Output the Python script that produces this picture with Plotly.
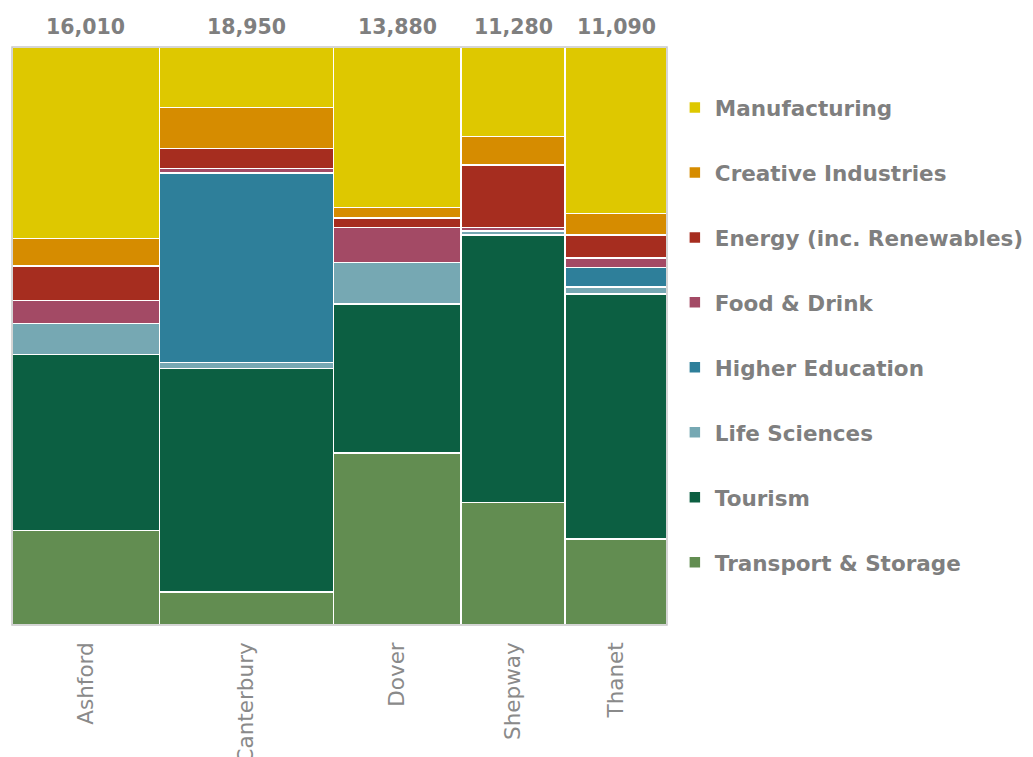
import plotly.graph_objects as go

# Districts and total jobs per district (column widths)
districts = ["Ashford", "Canterbury", "Dover", "Shepway", "Thanet"]
totals = [16010, 18950, 13880, 11280, 11090]

# Jobs by sector in each district (same order as districts)
transport = [2620, 1080, 4130, 2390, 1650]
tourism = [4870, 7330, 3580, 5220, 4700]
life_sciences = [860, 190, 990, 80, 140]
higher_education = [0, 6220, 0, 0, 370]
food_drink = [640, 150, 850, 70, 180]
energy = [950, 660, 220, 1220, 440]
creative = [770, 1330, 260, 550, 420]
manufacturing = [5300, 1990, 3850, 1750, 3190]

# Stacked bottom to top
sectors = [
    ("Transport & Storage", transport, "#628D51"),
    ("Tourism", tourism, "#0C5F42"),
    ("Life Sciences", life_sciences, "#76A8B3"),
    ("Higher Education", higher_education, "#2E7F9A"),
    ("Food & Drink", food_drink, "#A34A65"),
    ("Energy (inc. Renewables)", energy, "#A62D1F"),
    ("Creative Industries", creative, "#D68C00"),
    ("Manufacturing", manufacturing, "#DEC800"),
]

# Column positions: each column is as wide as the district's total
starts = []
acc = 0
for t in totals:
    starts.append(acc)
    acc += t
centers = [s + t / 2 for s, t in zip(starts, totals)]
grand_total = acc

fig = go.Figure()
n = len(sectors)
for i, (name, vals, color) in enumerate(sectors):
    shares = [100 * v / t for v, t in zip(vals, totals)]
    fig.add_trace(go.Bar(
        x=centers,
        y=shares,
        width=totals,
        name=name,
        legendgroup=name,
        legendrank=n - i,  # top segment listed first
        marker=dict(color=color, line=dict(color="white", width=1.5)),
        hovertemplate="%{y:.1f}%<extra>" + name + "</extra>",
    ))

text_gray = "#7f7f7f"

for c, t in zip(centers, totals):
    fig.add_annotation(
        x=c, xref="x", y=1.0346, yref="paper",
        text=f"{t:,}", showarrow=False, yanchor="middle",
        font=dict(family="DejaVu Sans", size=20.5, color=text_gray, weight="bold"),
    )

fig.add_shape(
    type="rect", xref="paper", yref="paper", x0=0, x1=1, y0=0, y1=1,
    line=dict(color="#c8c8c8", width=1.5), layer="above",
)

fig.update_layout(
    width=1033,
    height=757,
    margin=dict(l=12, r=366, t=47, b=132, autoexpand=False),
    barmode="stack",
    plot_bgcolor="white",
    paper_bgcolor="white",
    showlegend=True,
    legend=dict(
        traceorder="grouped",
        x=1.012, xanchor="left",
        y=1 - (108 - 47 - 21) / 578, yanchor="top",
        font=dict(family="DejaVu Sans", size=21.5, color=text_gray, weight="bold"),
        tracegroupgap=34,
        bgcolor="rgba(0,0,0,0)",
    ),
    xaxis=dict(
        range=[0, grand_total],
        tickmode="array",
        tickvals=centers,
        ticktext=districts,
        tickangle=-90,
        tickfont=dict(family="DejaVu Sans", size=21.5, color="#8a8a8a"),
        ticklabelstandoff=12,
        showgrid=False,
        zeroline=False,
        ticks="",
        automargin=False,
        fixedrange=True,
    ),
    yaxis=dict(
        range=[0, 100],
        showticklabels=False,
        showgrid=False,
        zeroline=False,
        ticks="",
        automargin=False,
        fixedrange=True,
    ),
)

fig.write_html("out.html")
